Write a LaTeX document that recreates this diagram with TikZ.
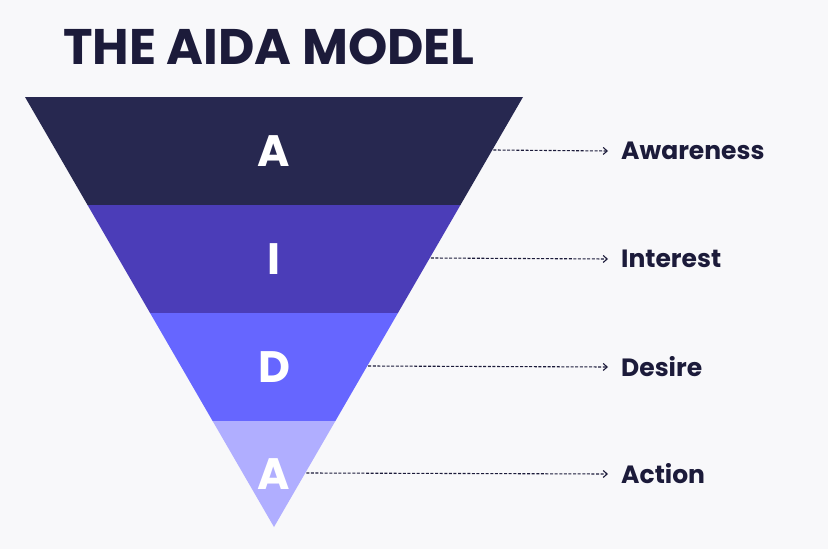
\documentclass[tikz,border=0pt]{standalone}
\usepackage{fontspec}
\setmainfont{Poppins}
\usetikzlibrary{arrows.meta, calc}

\definecolor{bgpaper}{HTML}{F8F8FA}
\definecolor{inkdark}{HTML}{1C1B3A}
\definecolor{stageone}{HTML}{272850}
\definecolor{stagetwo}{HTML}{4B3DB8}
\definecolor{stagethree}{HTML}{6666FF}
\definecolor{stagefour}{HTML}{B0AEFF}

\begin{document}
\begin{tikzpicture}[
    x=1pt, y=-1pt,
    letter/.style={text=white, font=\fontsize{44}{44}\selectfont\bfseries, inner sep=0pt},
    stage/.style={anchor=west, text=inkdark, font=\fontsize{25}{25}\selectfont\bfseries, inner sep=0pt},
    pointer/.style={-{Straight Barb[length=4pt,width=7pt]}, dashed, dash pattern=on 3pt off 1.6pt, line width=1.1pt, draw=inkdark}
]
% Canvas
\fill[bgpaper] (0,0) rectangle (828,549);

% Title
\node[anchor=west, text=inkdark, font=\fontsize{50}{50}\selectfont\bfseries, inner sep=0pt] (title) at (63,47) {THE AIDA MODEL};

% Funnel corners
\coordinate (tl) at (25,97);
\coordinate (tr) at (523,97);
\coordinate (tip) at (274,527);
\foreach \n/\y in {1/205,2/313,3/421}{
    \coordinate (l\n) at ($(tl)!{(\y-97)/430}!(tip)$);
    \coordinate (r\n) at ($(tr)!{(\y-97)/430}!(tip)$);
}

% Bands
\fill[stageone] (tl) -- (tr) -- (r1) -- (l1) -- cycle;
\fill[stagetwo] (l1) -- (r1) -- (r2) -- (l2) -- cycle;
\fill[stagethree] (l2) -- (r2) -- (r3) -- (l3) -- cycle;
\fill[stagefour] (l3) -- (r3) -- (tip) -- cycle;

% Letters
\node[letter] (aware) at (274,151) {A};
\node[letter] (inter) at (274,259) {I};
\node[letter] (desir) at (274,367) {D};
\node[letter] (actio) at (274,474) {A};

% Labels
\node[stage] (awareness) at (621,151) {Awareness};
\node[stage] (interest) at (621,259) {Interest};
\node[stage] (desire) at (621,367) {Desire};
\node[stage] (action) at (621,474) {Action};

% Pointers
\foreach \src/\dst/\y in {aware/awareness/150,inter/interest/258,desir/desire/366,actio/action/473}{
    \coordinate (s\src) at ($(tr)!{(\y-97)/430}!(tip)$);
    \draw[pointer] ($(s\src)+(1,0)$) -- ($(\dst.west)+(-13,0)$);
}
\end{tikzpicture}
\end{document}
